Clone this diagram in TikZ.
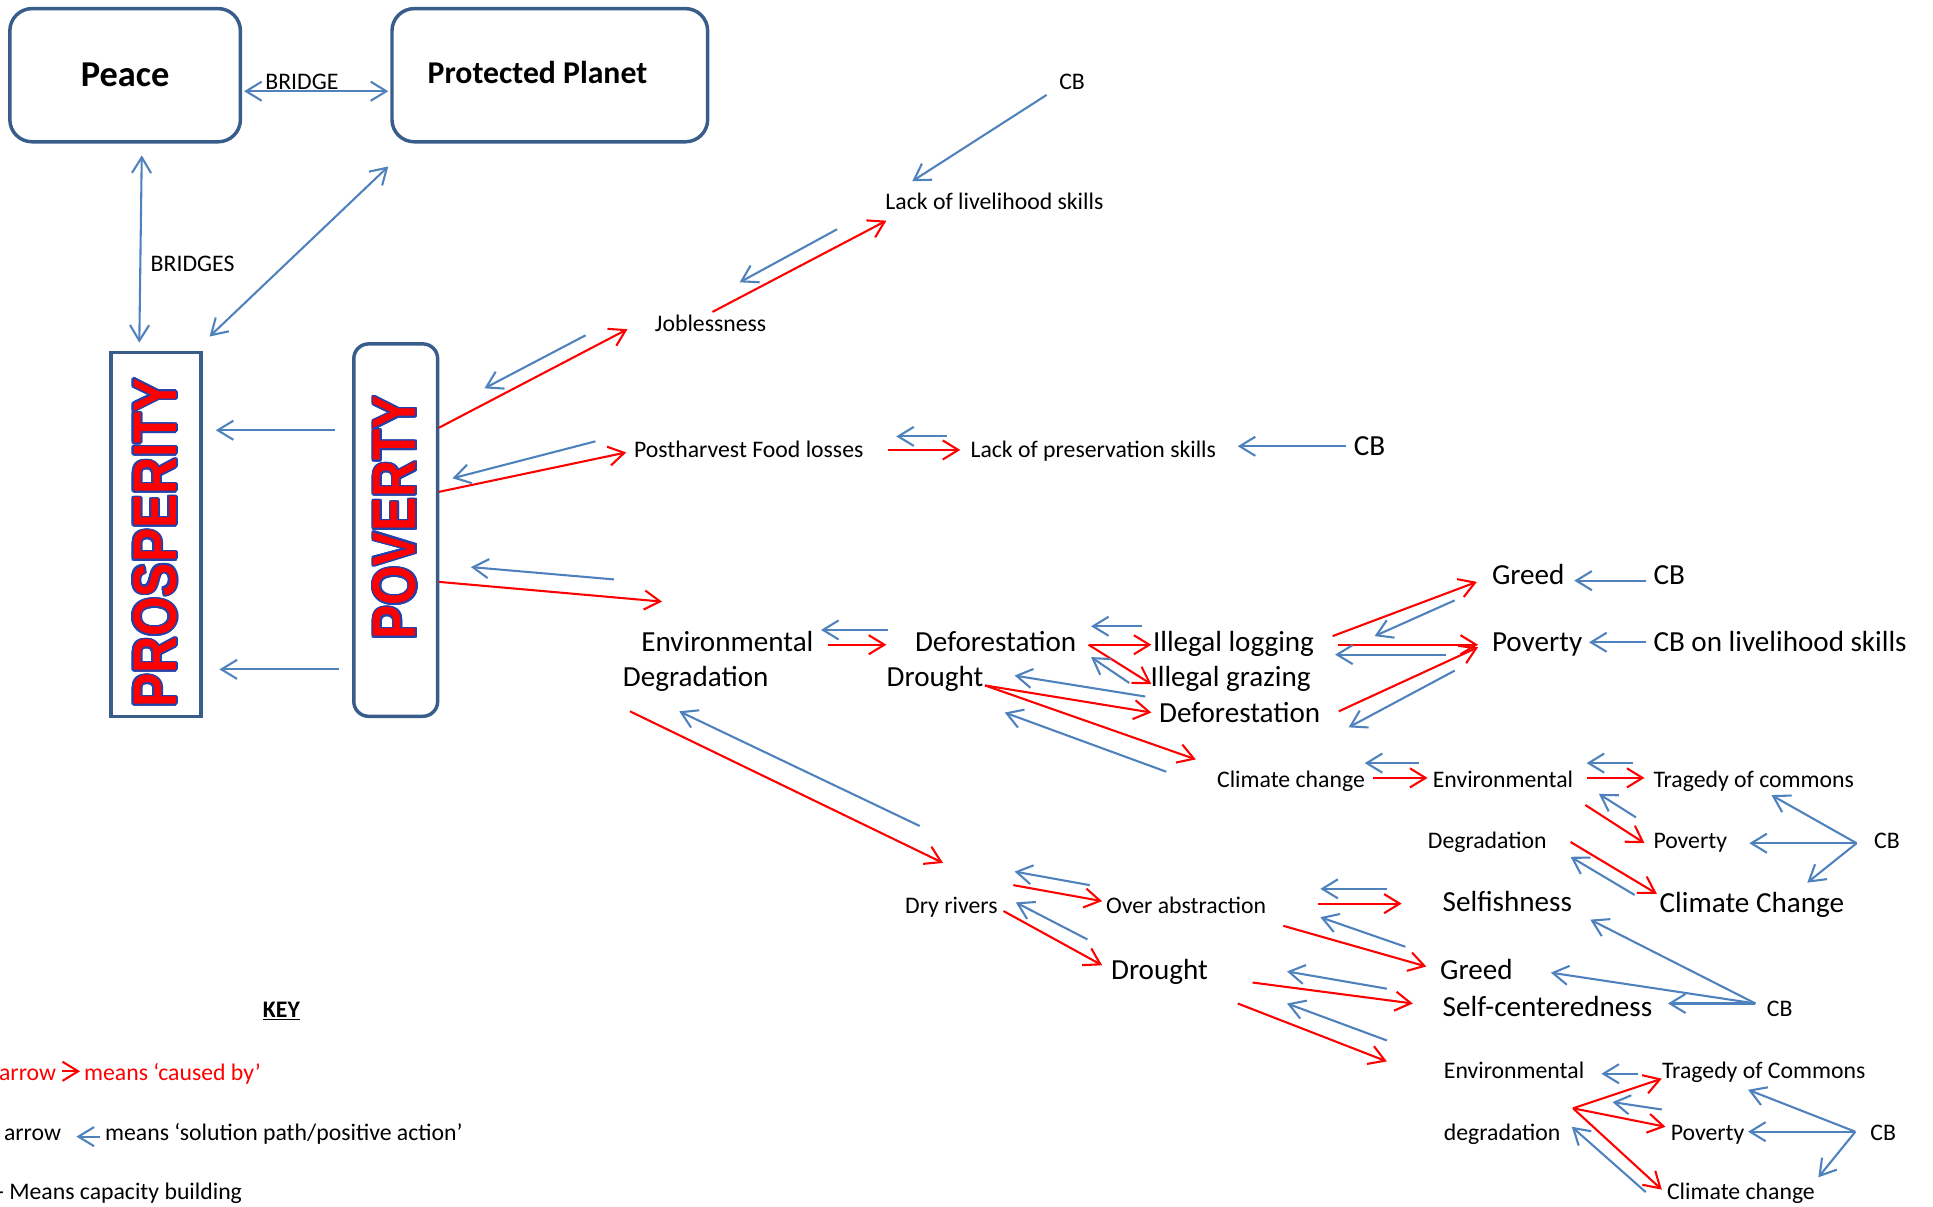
\documentclass[tikz,border=0pt]{standalone}
\usepackage{fontspec}
\usepackage{graphicx}
\usepackage{contour}
\setmainfont{Carlito}
\newfontfamily\pillarfont{Liberation Sans}
\usetikzlibrary{arrows.meta}
\definecolor{cred}{RGB}{255,0,0}
\definecolor{cblue}{RGB}{79,129,189}
\definecolor{cframe}{RGB}{56,93,138}
\definecolor{cdeep}{RGB}{35,65,170}
\contourlength{0.9pt}
\tikzstyle{lbl} = [anchor=west, inner sep=0pt, yshift=-0.075cm, text height=1.5ex, text depth=.25ex, font=\fontsize{13.7}{16}\selectfont]
\tikzstyle{lblbig} = [lbl, font=\fontsize{16.8}{20}\selectfont]
\tikzstyle{goal} = [rectangle, rounded corners=0.45cm, draw=cframe, line width=2pt, minimum width=4.675cm, minimum height=2.7cm, font=\bfseries\fontsize{21}{24}\selectfont]
\tikzstyle{pillar} = [rectangle, draw=cframe, line width=2pt, rotate=90, inner sep=0pt, text=cred, font=\pillarfont\bfseries\fontsize{29.5}{32}\selectfont]
\tikzstyle{cause} = [draw=cred, line width=1.2pt, -{Straight Barb[length=9pt,width=11pt]}]
\tikzstyle{fix} = [draw=cblue, line width=1.2pt, -{Straight Barb[length=9pt,width=11pt]}]
\tikzstyle{bridge} = [draw=cblue, line width=1.2pt, {Straight Barb[length=9pt,width=11pt]}-{Straight Barb[length=9pt,width=11pt]}]

\begin{document}
\begin{tikzpicture}[x=0.025cm, y=-0.025cm]
\useasboundingbox (0,0) rectangle (1568,979);

\node (peace) [goal] at (101.5,61) {Peace};
\node (planet) [goal, minimum width=6.4cm, font=\bfseries\fontsize{18.3}{22}\selectfont] at (446,61) {\raisebox{0.1cm}{Protected Planet}\hspace*{0.5cm}};
\node (prosperity) [pillar, minimum width=7.375cm, minimum height=1.825cm] at (126.5,433.5) {\scalebox{1}[1.2]{\contour{cdeep}{PROSPERITY}}\hspace*{0.35cm}};
\node (poverty) [pillar, rounded corners=0.3cm, minimum width=7.55cm, minimum height=1.7cm] at (321,430) {\hspace*{0.5cm}\scalebox{1}[1.2]{\contour{cdeep}{POVERTY}}};

\node (bridgeTxt) [lbl] at (215,65) {BRIDGE};
\node (bridgesTxt) [lbl] at (122,213) {BRIDGES};
\node (cbTop) [lbl] at (859,65) {CB};
\node (livelihood) [lbl] at (718,163) {Lack of livelihood skills};
\node (jobless) [lbl] at (531,262) {Joblessness};
\node (postharvest) [lbl] at (514,364) {Postharvest Food losses};
\node (preservation) [lbl] at (787,364) {Lack of preservation skills};
\node (cbPres) [lblbig] at (1098,362) {CB};
\node (envDegA) [lblbig] at (520,521) {Environmental};
\node (envDegB) [lblbig] at (505,550) {Degradation};
\node (deforest) [lblbig] at (742,521) {Deforestation};
\node (droughtA) [lblbig] at (719,550) {Drought};
\node (logging) [lblbig] at (935,521) {Illegal logging};
\node (grazing) [lblbig] at (933,550) {Illegal grazing};
\node (deforestB) [lblbig] at (940,579) {Deforestation};
\node (greedA) [lblbig] at (1210,467) {Greed};
\node (cbGreed) [lblbig] at (1341,467) {CB};
\node (povertyA) [lblbig] at (1210,521) {Poverty};
\node (cbSkills) [lblbig] at (1341,521) {CB on livelihood skills};
\node (climateA) [lbl] at (987,632) {Climate change};
\node (envA) [lbl] at (1162,632) {Environmental};
\node (tragedyA) [lbl] at (1341,632) {Tragedy of commons};
\node (degA) [lbl] at (1158,681) {Degradation};
\node (povertyB) [lbl] at (1341,681) {Poverty};
\node (cbFanA) [lbl] at (1520,681) {CB};
\node (climateB) [lblbig] at (1346,733) {Climate Change};
\node (dryRivers) [lbl] at (734,734) {Dry rivers};
\node (abstraction) [lbl] at (897,734) {Over abstraction};
\node (droughtB) [lblbig] at (901,787) {Drought};
\node (selfish) [lblbig] at (1170,732) {Selfishness};
\node (greedB) [lblbig] at (1168,787) {Greed};
\node (selfcentred) [lblbig] at (1170,817) {Self-centeredness};
\node (cbFanB) [lbl] at (1433,817) {CB};
\node (envB) [lbl] at (1171,868) {Environmental};
\node (tragedyB) [lbl] at (1348,868) {Tragedy of Commons};
\node (degB) [lbl] at (1171,918) {degradation};
\node (povertyC) [lbl] at (1355,918) {Poverty};
\node (cbFanC) [lbl] at (1517,918) {CB};
\node (climateC) [lbl] at (1352,966) {Climate change};

\node (keyTitle) [lbl, font=\bfseries\fontsize{13.7}{16}\selectfont] at (213,818) {\underline{KEY}};
\node (keyRedA) [lbl, text=cred] at (-1,869) {arrow};
\node (keyRedB) [lbl, text=cred] at (68,869) {means ‘caused by’};
\node (keyBlueA) [lbl] at (3,918) {arrow};
\node (keyBlueB) [lbl] at (85,918) {means ‘solution path/positive action’};
\node (keyCB) [lbl] at (-3,966) {- Means capacity building};

\coordinate (b1) at (198,74); \coordinate (b2) at (315,74);
\coordinate (b3) at (115,126); \coordinate (b4) at (113,278);
\coordinate (b5) at (170,273); \coordinate (b6) at (315,135);
\coordinate (p1) at (272,349); \coordinate (p2) at (175,349);
\coordinate (p3) at (275,543); \coordinate (p4) at (178,543);
\coordinate (j1) at (356,347); \coordinate (j2) at (509,267);
\coordinate (j3) at (475,272); \coordinate (j4) at (393,315);
\coordinate (h1) at (356,399); \coordinate (h2) at (508,367);
\coordinate (h3) at (483,358); \coordinate (h4) at (367,388);
\coordinate (e1) at (356,472); \coordinate (e2) at (537,488);
\coordinate (e3) at (498,470); \coordinate (e4) at (382,460);
\coordinate (l1) at (578,253); \coordinate (l2) at (719,179);
\coordinate (l3) at (679,186); \coordinate (l4) at (600,229);
\coordinate (l5) at (849,77); \coordinate (l6) at (740,147);
\coordinate (s1) at (720,365); \coordinate (s2) at (779,365);
\coordinate (s3) at (768,354); \coordinate (s4) at (727,354);
\coordinate (s5) at (1092,362); \coordinate (s6) at (1004,362);
\coordinate (d1) at (720,511); \coordinate (d2) at (666,511);
\coordinate (d3) at (672,523); \coordinate (d4) at (719,523);
\coordinate (g1) at (926,508); \coordinate (g2) at (885,508);
\coordinate (g3) at (883,523); \coordinate (g4) at (934,523);
\coordinate (g5) at (934,555); \coordinate (g6) at (916,554);
\coordinate (g7) at (885,533);
\coordinate (r1) at (799,556); \coordinate (r2) at (934,578);
\coordinate (r3) at (970,616); \coordinate (r4) at (929,565);
\coordinate (r5) at (823,548); \coordinate (r6) at (946,626);
\coordinate (r7) at (815,578);
\coordinate (v1) at (1081,516); \coordinate (v2) at (1198,472);
\coordinate (v3) at (1180,487); \coordinate (v4) at (1115,516);
\coordinate (v5) at (1085,523); \coordinate (v6) at (1199,523);
\coordinate (v7) at (1173,531); \coordinate (v8) at (1083,531);
\coordinate (v9) at (1086,577); \coordinate (v10) at (1199,525);
\coordinate (v11) at (1180,544); \coordinate (v12) at (1094,590);
\coordinate (v13) at (1335,471); \coordinate (v14) at (1277,471);
\coordinate (v15) at (1335,521); \coordinate (v16) at (1289,521);
\coordinate (c1) at (1151,619); \coordinate (c2) at (1107,619);
\coordinate (c3) at (1114,631); \coordinate (c4) at (1158,631);
\coordinate (c5) at (1325,619); \coordinate (c6) at (1287,619);
\coordinate (c7) at (1287,631); \coordinate (c8) at (1334,631);
\coordinate (c9) at (1327,663); \coordinate (c10) at (1297,644);
\coordinate (c11) at (1286,653); \coordinate (c12) at (1334,684);
\coordinate (c13) at (1274,683); \coordinate (c14) at (1344,725);
\coordinate (c15) at (1326,726); \coordinate (c16) at (1274,695);
\coordinate (f1) at (1506,684); \coordinate (f2) at (1437,645);
\coordinate (f3) at (1419,684); \coordinate (f4) at (1466,716);
\coordinate (w1) at (511,577); \coordinate (w2) at (765,700);
\coordinate (w3) at (746,670); \coordinate (w4) at (551,577);
\coordinate (w5) at (884,718); \coordinate (w6) at (823,707);
\coordinate (w7) at (822,718); \coordinate (w8) at (894,731);
\coordinate (w9) at (882,762); \coordinate (w10) at (824,732);
\coordinate (w11) at (814,739); \coordinate (w12) at (894,783);
\coordinate (o1) at (1125,721); \coordinate (o2) at (1071,721);
\coordinate (o3) at (1069,733); \coordinate (o4) at (1137,733);
\coordinate (o5) at (1041,751); \coordinate (o6) at (1157,784);
\coordinate (o7) at (1140,768); \coordinate (o8) at (1071,744);
\coordinate (o9) at (1016,797); \coordinate (o10) at (1146,814);
\coordinate (o11) at (1125,802); \coordinate (o12) at (1044,788);
\coordinate (o13) at (1004,814); \coordinate (o14) at (1125,861);
\coordinate (o15) at (1125,844); \coordinate (o16) at (1044,814);
\coordinate (f5) at (1424,814); \coordinate (f6) at (1290,746);
\coordinate (f7) at (1258,789); \coordinate (f8) at (1353,814);
\coordinate (t1) at (1329,871); \coordinate (t2) at (1299,871);
\coordinate (t3) at (1276,899); \coordinate (t4) at (1348,875);
\coordinate (t5) at (1351,914); \coordinate (t6) at (1348,965);
\coordinate (t7) at (1348,900); \coordinate (t8) at (1308,894);
\coordinate (t9) at (1335,967); \coordinate (t10) at (1275,914);
\coordinate (f9) at (1505,918); \coordinate (f10) at (1418,884);
\coordinate (f11) at (1418,918); \coordinate (f12) at (1475,955);
\coordinate (k1) at (50,869); \coordinate (k2) at (65,869);
\coordinate (k3) at (81,922); \coordinate (k4) at (62,922);

\draw [bridge] (b1) -- (b2);
\draw [bridge] (b3) -- (b4);
\draw [bridge] (b5) -- (b6);
\draw [fix] (p1) -- (p2);
\draw [fix] (p3) -- (p4);
\draw [cause] (j1) -- (j2);
\draw [fix] (j3) -- (j4);
\draw [cause] (h1) -- (h2);
\draw [fix] (h3) -- (h4);
\draw [cause] (e1) -- (e2);
\draw [fix] (e3) -- (e4);
\draw [cause] (l1) -- (l2);
\draw [fix] (l3) -- (l4);
\draw [fix] (l5) -- (l6);
\draw [cause] (s1) -- (s2);
\draw [fix] (s3) -- (s4);
\draw [fix] (s5) -- (s6);
\draw [fix] (d1) -- (d2);
\draw [cause] (d3) -- (d4);
\draw [fix] (g1) -- (g2);
\draw [cause] (g3) -- (g4);
\draw [cause] (g3) -- (g5);
\draw [fix] (g6) -- (g7);
\draw [cause] (r1) -- (r2);
\draw [cause] (r1) -- (r3);
\draw [fix] (r4) -- (r5);
\draw [fix] (r6) -- (r7);
\draw [cause] (v1) -- (v2);
\draw [fix] (v3) -- (v4);
\draw [cause] (v5) -- (v6);
\draw [fix] (v7) -- (v8);
\draw [cause] (v9) -- (v10);
\draw [fix] (v11) -- (v12);
\draw [fix] (v13) -- (v14);
\draw [fix] (v15) -- (v16);
\draw [fix] (c1) -- (c2);
\draw [cause] (c3) -- (c4);
\draw [fix] (c5) -- (c6);
\draw [cause] (c7) -- (c8);
\draw [fix] (c9) -- (c10);
\draw [cause] (c11) -- (c12);
\draw [cause] (c13) -- (c14);
\draw [fix] (c15) -- (c16);
\draw [fix] (f1) -- (f2);
\draw [fix] (f1) -- (f3);
\draw [fix] (f1) -- (f4);
\draw [cause] (w1) -- (w2);
\draw [fix] (w3) -- (w4);
\draw [fix] (w5) -- (w6);
\draw [cause] (w7) -- (w8);
\draw [fix] (w9) -- (w10);
\draw [cause] (w11) -- (w12);
\draw [fix] (o1) -- (o2);
\draw [cause] (o3) -- (o4);
\draw [cause] (o5) -- (o6);
\draw [fix] (o7) -- (o8);
\draw [cause] (o9) -- (o10);
\draw [fix] (o11) -- (o12);
\draw [cause] (o13) -- (o14);
\draw [fix] (o15) -- (o16);
\draw [fix] (f5) -- (f6);
\draw [fix] (f5) -- (f7);
\draw [fix] (f5) -- (f8);
\draw [fix] (t1) -- (t2);
\draw [cause] (t3) -- (t4);
\draw [cause] (t3) -- (t5);
\draw [cause] (t3) -- (t6);
\draw [fix] (t7) -- (t8);
\draw [fix] (t9) -- (t10);
\draw [fix] (f9) -- (f10);
\draw [fix] (f9) -- (f11);
\draw [fix] (f9) -- (f12);
\draw [cause] (k1) -- (k2);
\draw [fix] (k3) -- (k4);
\end{tikzpicture}
\end{document}
